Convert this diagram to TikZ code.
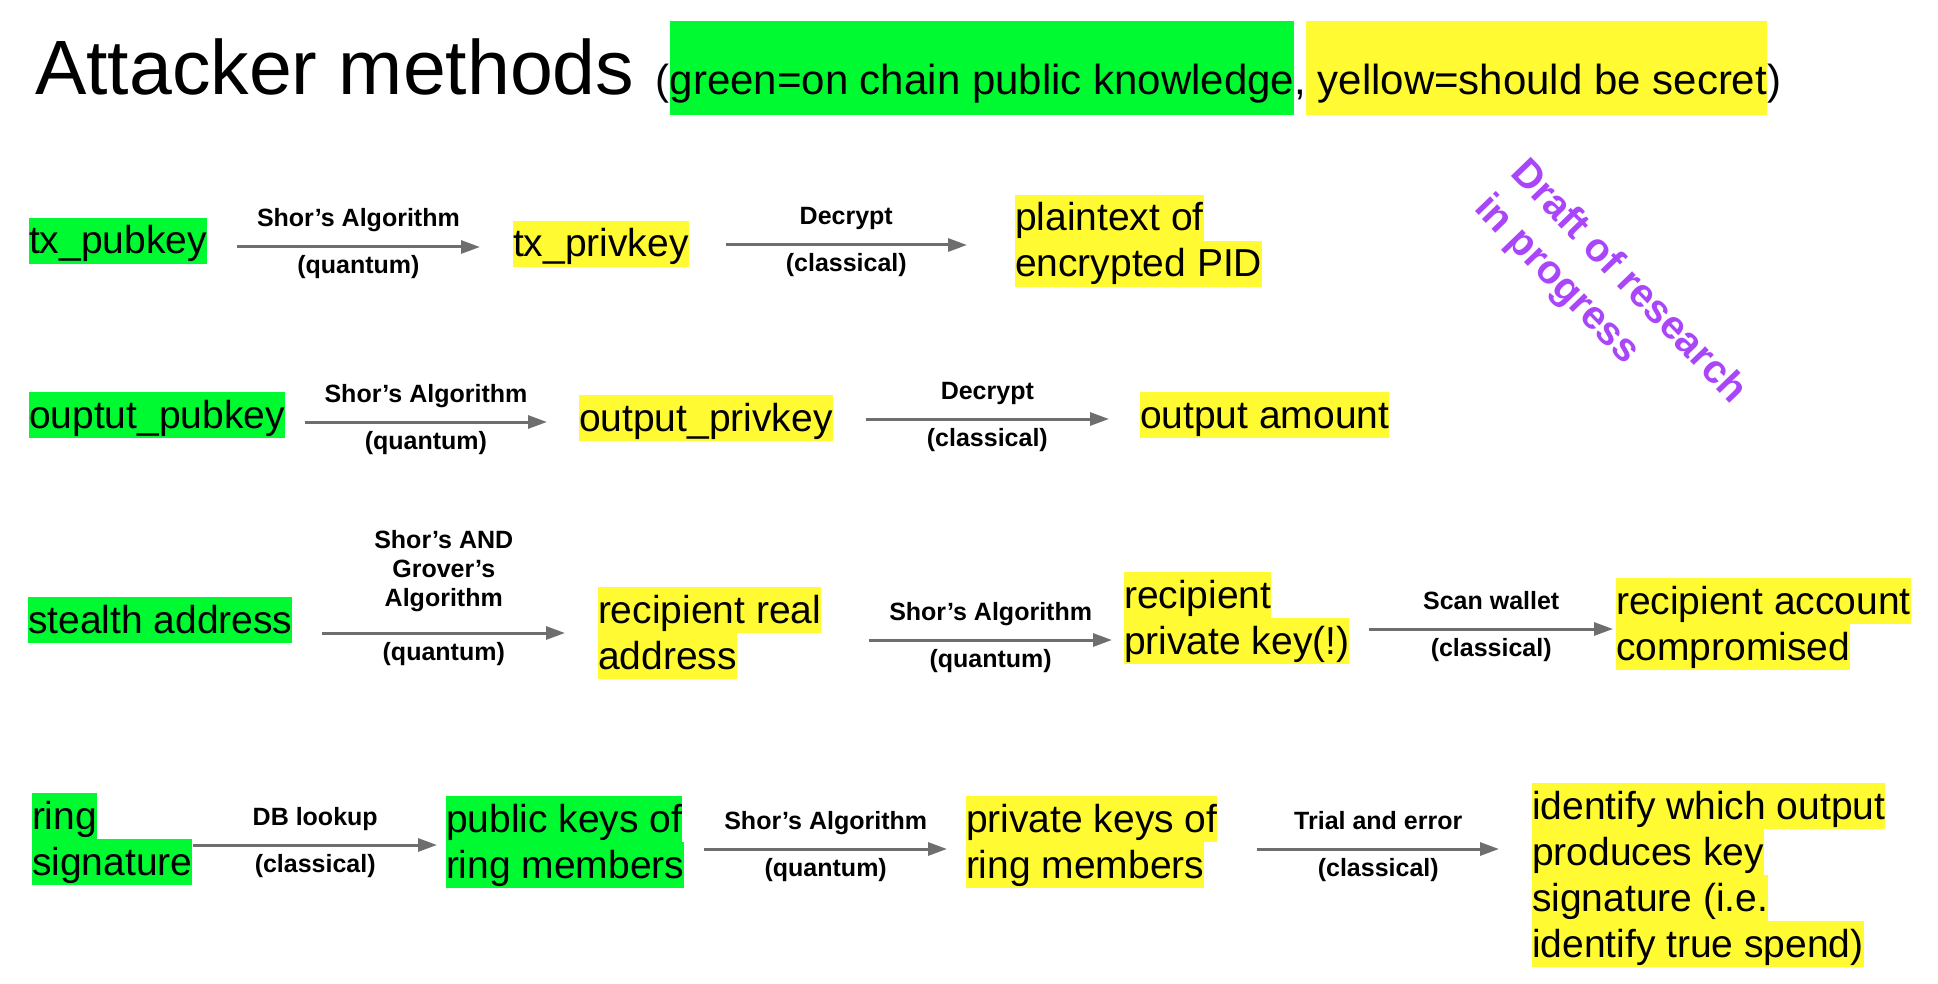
\documentclass[tikz,border=0pt]{standalone}
\usepackage{fontspec}
\setmainfont{Liberation Sans}
\usetikzlibrary{arrows.meta,calc}
\definecolor{hlgreen}{RGB}{0,250,50}
\definecolor{hlyellow}{RGB}{255,250,50}
\definecolor{arrgray}{RGB}{110,110,110}
\definecolor{draftpurple}{RGB}{170,70,250}
\setlength{\fboxsep}{0pt}
\newcommand\hg[1]{\colorbox{hlgreen}{\rule[-10pt]{0pt}{46pt}#1}}
\newcommand\hy[1]{\colorbox{hlyellow}{\rule[-10pt]{0pt}{46pt}#1}}
\begin{document}
\begin{tikzpicture}[x=1pt,y=-1pt,
  box/.style={anchor=north west, inner sep=0pt, outer sep=0pt, align=left, font=\fontsize{39}{46}\selectfont},
  arr/.style={draw=arrgray, line width=3pt, -{Triangle[length=19pt,width=13pt]}},
  labfont/.style={inner sep=0pt, align=center, font=\bfseries\fontsize{25}{29}\selectfont},
  labup/.style={labfont, anchor=base, yshift=20pt},
  labdn/.style={labfont, anchor=base, yshift=-27pt},
  labtall/.style={labfont, anchor=south, yshift=20pt}]
\useasboundingbox (0,0) rectangle (1938,984);

% title
\node[anchor=base west, inner sep=0pt] (title) at (35,95)
  {\fontsize{77}{90}\selectfont Attacker methods \fontsize{42}{50}\selectfont(\colorbox{hlgreen}{\rule[-20pt]{0pt}{94pt}green=on chain public knowledge},\colorbox{hlyellow}{\rule[-20pt]{0pt}{94pt} yellow=should be secret})};

% watermark
\node[rotate=-46, anchor=north west, inner sep=0pt, align=left, text=draftpurple,
  font=\bfseries\fontsize{40}{50}\selectfont] (draft) at (1530,154) {Draft of research\\in progress};

% row 1
\node[box] (tx1) at (29,218) {\hg{tx\_pubkey}};
\node[box] (tx2) at (513,221) {\hy{tx\_privkey}};
\node[box] (tx3) at (1015,195) {\hy{plaintext of}\\\hy{encrypted PID}};
% row 2
\node[box] (op1) at (29,392) {\hg{ouptut\_pubkey}};
\node[box] (op2) at (579,395) {\hy{output\_privkey}};
\node[box] (op3) at (1140,392) {\hy{output amount}};
% row 3
\node[box] (st1) at (28,597) {\hg{stealth address}};
\node[box] (st2) at (598,587) {\hy{recipient real}\\\hy{address}};
\node[box] (st3) at (1124,572) {\hy{recipient}\\\hy{private key(!)}};
\node[box] (st4) at (1616,578) {\hy{recipient account}\\\hy{compromised}};
% row 4
\node[box] (rs1) at (32,793) {\hg{ring}\\\hg{signature}};
\node[box] (rs2) at (446,796) {\hg{public keys of}\\\hg{ring members}};
\node[box] (rs3) at (966,796) {\hy{private keys of}\\\hy{ring members}};
\node[box] (rs4) at (1532,783) {\hy{identify which output}\\\hy{produces key}\\\hy{signature (i.e.}\\\hy{identify true spend)}};

% arrows
\draw[arr] ([shift={(30,6)}]tx1.east) coordinate (a1) -- ($(a1 -| tx2.west)+(-33,0)$)
  node[midway,labup]{Shor’s Algorithm} node[midway,labdn]{(quantum)};
\draw[arr] ([shift={(37,1)}]tx2.east) coordinate (a2) -- ($(a2 -| tx3.west)+(-48,0)$)
  node[midway,labup]{Decrypt} node[midway,labdn]{(classical)};
\draw[arr] ([shift={(20,7)}]op1.east) coordinate (a3) -- ($(a3 -| op2.west)+(-32,0)$)
  node[midway,labup]{Shor’s Algorithm} node[midway,labdn]{(quantum)};
\draw[arr] ([shift={(33,1)}]op2.east) coordinate (a4) -- ($(a4 -| op3.west)+(-31,0)$)
  node[midway,labup]{Decrypt} node[midway,labdn]{(classical)};
\draw[arr] ([shift={(30,13)}]st1.east) coordinate (a5) -- ($(a5 -| st2.west)+(-33,0)$)
  node[midway,labtall]{Shor’s AND\\Grover’s\\Algorithm} node[midway,labdn]{(quantum)};
\draw[arr] ([shift={(48,7)}]st2.east) coordinate (a6) -- ($(a6 -| st3.west)+(-12,0)$)
  node[midway,labup]{Shor’s Algorithm} node[midway,labdn]{(quantum)};
\draw[arr] ([shift={(20,11)}]st3.east) coordinate (a7) -- ($(a7 -| st4.west)+(-3,0)$)
  node[midway,labup]{Scan wallet} node[midway,labdn]{(classical)};
\draw[arr] ([shift={(1,6)}]rs1.east) coordinate (a8) -- ($(a8 -| rs2.west)+(-9,0)$)
  node[midway,labup]{DB lookup} node[midway,labdn]{(classical)};
\draw[arr] ([shift={(20,7)}]rs2.east) coordinate (a9) -- ($(a9 -| rs3.west)+(-19,0)$)
  node[midway,labup]{Shor’s Algorithm} node[midway,labdn]{(quantum)};
\draw[arr] ([shift={(40,7)}]rs3.east) coordinate (a10) -- ($(a10 -| rs4.west)+(-33,0)$)
  node[midway,labup]{Trial and error} node[midway,labdn]{(classical)};
\end{tikzpicture}
\end{document}
